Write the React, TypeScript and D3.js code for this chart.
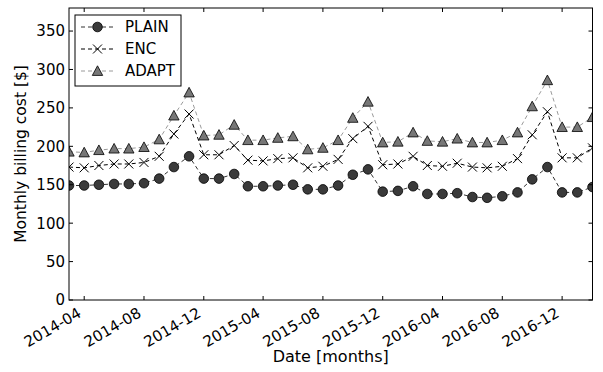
import React from "react";
import * as d3 from "d3";

const months: string[] = [
  "2014-03","2014-04","2014-05","2014-06","2014-07","2014-08","2014-09","2014-10","2014-11","2014-12",
  "2015-01","2015-02","2015-03","2015-04","2015-05","2015-06","2015-07","2015-08","2015-09","2015-10","2015-11","2015-12",
  "2016-01","2016-02","2016-03","2016-04","2016-05","2016-06","2016-07","2016-08","2016-09","2016-10","2016-11","2016-12",
  "2017-01","2017-02",
];

const plain: number[] = [
  149, 149, 150, 151, 151, 152, 158, 173, 187, 158, 158, 164,
  148, 148, 149, 150, 144, 144, 149, 163, 170, 141, 142, 148,
  138, 138, 139, 134, 133, 135, 140, 157, 173, 140, 140, 147,
];
const enc: number[] = [
  173, 172, 175, 177, 177, 179, 187, 216, 242, 189, 189, 201,
  182, 181, 184, 185, 172, 174, 183, 210, 226, 176, 177, 187,
  175, 174, 178, 173, 172, 174, 184, 215, 245, 185, 185, 198,
];
const adapt: number[] = [
  193, 192, 195, 197, 197, 199, 209, 240, 270, 214, 215, 228,
  208, 208, 211, 213, 196, 198, 208, 237, 258, 205, 206, 218,
  207, 206, 210, 205, 205, 208, 218, 252, 286, 225, 225, 238,
];

const xTickLabels: string[] = [
  "2014-04","2014-08","2014-12","2015-04","2015-08","2015-12","2016-04","2016-08","2016-12",
];
const yTicks: number[] = [0, 50, 100, 150, 200, 250, 300, 350];
const seriesNames: string[] = ["PLAIN", "ENC", "ADAPT"];

const W = 603, H = 372;
const L = 69, R = 592.5, T = 8, B = 300;
const FONT = "DejaVu Sans, sans-serif";

const parse = d3.timeParse("%Y-%m");

export default function App() {
  const dates = months.map((m) => parse(m) as Date);
  const x = d3.scaleTime().domain([dates[0], dates[dates.length - 1]]).range([L, R]);
  const y = d3.scaleLinear().domain([0, 380]).range([B, T]);

  const line = d3
    .line<number>()
    .x((_, i) => x(dates[i]))
    .y((v) => y(v));

  const series = [
    { name: seriesNames[0], values: plain, stroke: "#333333", marker: "circle" },
    { name: seriesNames[1], values: enc, stroke: "#000000", marker: "x" },
    { name: seriesNames[2], values: adapt, stroke: "#9a9a9a", marker: "tri" },
  ];

  const drawMarker = (kind: string, cx: number, cy: number, key: string | number) => {
    if (kind === "circle")
      return <circle key={key} cx={cx} cy={cy} r={4.8} fill="#3a3a3a" stroke="#000" strokeWidth={0.8} />;
    if (kind === "x") {
      const s = 4.5;
      return (
        <path
          key={key}
          d={`M${cx - s},${cy - s}L${cx + s},${cy + s}M${cx - s},${cy + s}L${cx + s},${cy - s}`}
          stroke="#000"
          strokeWidth={1}
          fill="none"
        />
      );
    }
    const s = 5.2;
    return (
      <path
        key={key}
        d={`M${cx},${cy - s}L${cx - s},${cy + s * 0.85}L${cx + s},${cy + s * 0.85}Z`}
        fill="#777777"
        stroke="#000"
        strokeWidth={0.8}
      />
    );
  };

  const xTickDates = xTickLabels.map((t) => parse(t) as Date);
  const tickLen = 4;
  const fs = 15;
  const textH = fs * 1.17;
  const descent = fs * 0.24;

  return (
    <svg width={W} height={H} style={{ position: "absolute", left: 0, top: 0, background: "#fff" }} fontFamily={FONT}>
      <defs>
        <clipPath id="plotclip">
          <rect x={L} y={T} width={R - L} height={B - T} />
        </clipPath>
      </defs>
      <rect x={0} y={0} width={W} height={H} fill="#fff" />
      <g clipPath="url(#plotclip)">
        {series.map((s) => (
          <path
            key={s.name}
            d={line(s.values) || ""}
            fill="none"
            stroke={s.stroke}
            strokeWidth={1}
            strokeDasharray="4,3"
          />
        ))}
        {series.map((s) => (
          <g key={s.name + "m"}>{s.values.map((v, i) => drawMarker(s.marker, x(dates[i]), y(v), i))}</g>
        ))}
      </g>
      {/* axes frame */}
      <rect x={L} y={T} width={R - L} height={B - T} fill="none" stroke="#000" strokeWidth={1} />
      {/* y ticks */}
      {yTicks.map((t) => (
        <g key={"y" + t}>
          <line x1={L} x2={L + tickLen} y1={y(t)} y2={y(t)} stroke="#000" />
          <line x1={R} x2={R - tickLen} y1={y(t)} y2={y(t)} stroke="#000" />
          <text x={L - 4} y={y(t)} dy="0.36em" textAnchor="end" fontSize={fs} fill="#000">
            {t}
          </text>
        </g>
      ))}
      {/* x ticks */}
      {xTickDates.map((d, i) => {
        const px = x(d);
        const top = B + 4;
        const ay = top + 0.866 * textH;
        return (
          <g key={"x" + i}>
            <line x1={px} x2={px} y1={B} y2={B - tickLen} stroke="#000" />
            <line x1={px} x2={px} y1={T} y2={T + tickLen} stroke="#000" />
            <text
              transform={`translate(${px},${ay}) rotate(-30)`}
              y={-descent}
              textAnchor="end"
              fontSize={fs}
              fill="#000"
            >
              {xTickLabels[i]}
            </text>
          </g>
        );
      })}
      <text x={(L + R) / 2} y={362} textAnchor="middle" fontSize={16} fill="#000">
        Date [months]
      </text>
      <text transform={`translate(26,${(T + B) / 2}) rotate(-90)`} textAnchor="middle" fontSize={15.5} fill="#000">
        Monthly billing cost [$]
      </text>
      {/* legend */}
      <g>
        <rect x={75} y={15} width={106} height={71} fill="#fff" stroke="#000" strokeWidth={1} />
        {series.map((s, i) => {
          const ly = 27 + i * 22;
          return (
            <g key={"leg" + i}>
              <line x1={81} x2={113} y1={ly} y2={ly} stroke={s.stroke} strokeDasharray="4,3" />
              {drawMarker(s.marker, 97.5, ly, "lm" + i)}
              <text x={125} y={ly} dy="0.36em" fontSize={fs} fill="#000">
                {s.name}
              </text>
            </g>
          );
        })}
      </g>
    </svg>
  );
}
